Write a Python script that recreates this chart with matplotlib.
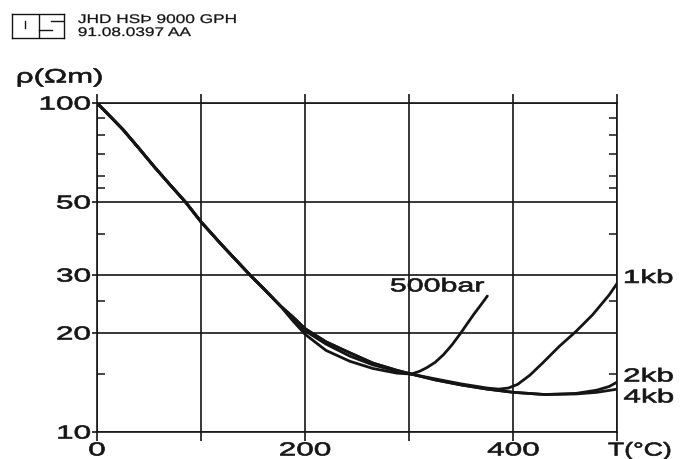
import matplotlib
matplotlib.use("Agg")
import matplotlib.pyplot as plt
from matplotlib.ticker import FixedLocator, NullFormatter
from matplotlib.patheffects import AbstractPathEffect
from matplotlib.transforms import Affine2D

plt.rcParams['font.family'] = ['Liberation Sans', 'DejaVu Sans']

# =========================
# DATA
# =========================
# part shared by all curves
t_common = [0, 12, 25, 40, 55, 70, 85, 100, 120, 147, 160, 176]
rho_common = [100, 91.5, 83, 73, 64, 56.5, 50, 43.5, 37, 30, 27.3, 24.2]

t_500bar = [188, 200, 220, 243, 265, 288, 302, 310, 317, 325, 333, 341, 349, 355, 362, 369, 375]
rho_500bar = [21.8, 19.8, 17.7, 16.4, 15.6, 15.1, 15.0, 15.3, 15.7, 16.3, 17.2, 18.4, 19.9,
              21.2, 22.8, 24.4, 25.9]

t_1kb = [188, 200, 220, 243, 265, 288, 302, 325, 350, 375, 386, 395, 404, 416, 428, 444, 460,
         476, 492, 500]
rho_1kb = [22.2, 20.3, 18.5, 17.0, 16.0, 15.3, 15.0, 14.5, 14.0, 13.6, 13.5, 13.6, 13.95,
           14.9, 16.2, 18.2, 20.2, 22.7, 26.1, 28.4]

t_2kb = [188, 200, 220, 243, 265, 288, 302, 325, 350, 375, 400, 430, 460, 480, 492, 500]
rho_2kb = [22.4, 20.6, 18.8, 17.4, 16.2, 15.4, 15.0, 14.4, 13.9, 13.5, 13.2, 13.0, 13.1,
           13.4, 13.75, 14.2]

t_4kb = [188, 200, 220, 243, 265, 288, 302, 325, 350, 375, 400, 430, 460, 480, 500]
rho_4kb = [22.4, 20.6, 18.8, 17.4, 16.2, 15.4, 15.0, 14.4, 13.9, 13.5, 13.2, 13.0, 13.05,
           13.2, 13.5]

x_ticks = [0, 100, 200, 300, 400, 500]
x_labels = ['0', '', '200', '', '400', '']
y_ticks = [10, 20, 30, 50, 100]
y_minor = [15, 25, 40, 55, 60, 70, 80, 90]

INK = '#151515'


# the scanned page is stretched sideways, so the lettering is wide and heavy
class Widen(AbstractPathEffect):
    def __init__(self, sx, anchor='center', lw=0.5):
        super().__init__()
        self.sx = sx
        self.anchor = anchor
        self.lw = lw

    def draw_path(self, renderer, gc, tpath, affine, rgbFace=None):
        box = tpath.transformed(affine).get_extents()
        if self.anchor == 'left':
            x0 = box.x0
        elif self.anchor == 'right':
            x0 = box.x1
        else:
            x0 = (box.x0 + box.x1) / 2
        tr = Affine2D(affine.get_matrix().copy()).translate(-x0, 0).scale(self.sx, 1).translate(x0, 0)
        gc0 = renderer.new_gc()
        gc0.copy_properties(gc)
        gc0.set_linewidth(self.lw)
        gc0.set_foreground(rgbFace)
        gc0.set_joinstyle('round')
        renderer.draw_path(gc0, tpath, tr, rgbFace)
        gc0.restore()


SX = 1.68
FS = 13.5

fig = plt.figure(figsize=(6.88, 4.59), dpi=100)
ax = fig.add_axes([0.141, 0.0588, 0.7565, 0.7168])

# =========================
# CURVES
# =========================
for t_tail, rho_tail in [(t_500bar, rho_500bar), (t_1kb, rho_1kb),
                         (t_2kb, rho_2kb), (t_4kb, rho_4kb)]:
    ax.plot(t_common + t_tail, rho_common + rho_tail, color=INK, lw=2.0,
            solid_capstyle='round', solid_joinstyle='round')

ax.set_yscale('log')
ax.set_xlim(0, 500)
ax.set_ylim(10, 100)

ax.set_xticks(x_ticks, labels=x_labels)
ax.set_yticks(y_ticks, labels=[str(v) for v in y_ticks])
ax.yaxis.set_minor_locator(FixedLocator(y_minor))
ax.yaxis.set_minor_formatter(NullFormatter())

ax.grid(True, which='major', color=INK, lw=1.2)
for s in ax.spines.values():
    s.set_linewidth(1.2)
    s.set_color(INK)

ax.tick_params(axis='x', which='major', top=True, bottom=True, direction='out',
               length=6.5, width=1.2, color=INK, labelsize=FS, pad=1, labelcolor=INK)
ax.tick_params(axis='y', which='major', left=True, right=False, direction='out',
               length=3.6, width=1.2, color=INK, labelsize=FS, pad=1, labelcolor=INK)
ax.tick_params(axis='y', which='minor', left=True, right=True, direction='in',
               length=5.8, width=1.1, color=INK)

for lbl in ax.get_xticklabels():
    lbl.set_path_effects([Widen(SX, 'center')])
for lbl in ax.get_yticklabels():
    lbl.set_path_effects([Widen(SX, 'right')])

# =========================
# LABELS
# =========================
ax.text(327, 27.6, '500bar', ha='center', va='center', fontsize=FS, color=INK,
        path_effects=[Widen(1.62, 'center')])
for txt, yy in [('1kb', 29.3), ('2kb', 14.7), ('4kb', 12.7)]:
    ax.text(506, yy, txt, ha='left', va='center', fontsize=FS, color=INK,
            path_effects=[Widen(SX, 'left')])
ax.text(491, 8.75, 'T(°C)', ha='left', va='center', fontsize=FS, color=INK,
        path_effects=[Widen(1.42, 'left')])

fig.text(0.087, 0.83, 'ρ(Ωm)', ha='center', va='center', fontsize=14, color=INK,
         path_effects=[Widen(1.6, 'center')])

# header with logo
fig.text(78 / 688, 1 - 20 / 459, 'JHD HSÞ 9000 GPH', ha='left', va='center',
         fontsize=9, color=INK, path_effects=[Widen(1.38, 'left', 0.2)])
fig.text(78 / 688, 1 - 33 / 459, '91.08.0397 AA', ha='left', va='center',
         fontsize=9, color=INK, path_effects=[Widen(1.38, 'left', 0.2)])

lax = fig.add_axes([12 / 688, 1 - 38 / 459, 52 / 688, 24 / 459])
lax.set_xticks([])
lax.set_yticks([])
lax.set_xlim(0, 1)
lax.set_ylim(0, 1)
for s in lax.spines.values():
    s.set_linewidth(1.0)
    s.set_color(INK)
lax.plot([0.51, 0.51], [0, 1], color=INK, lw=1.0)
lax.plot([0.25, 0.25], [0.42, 0.71], color=INK, lw=1.0)
lax.plot([0.75, 1.0], [0.70, 0.70], color=INK, lw=1.0)
lax.plot([0.51, 0.76], [0.33, 0.33], color=INK, lw=1.0)

fig.savefig('out.png', dpi=100)
